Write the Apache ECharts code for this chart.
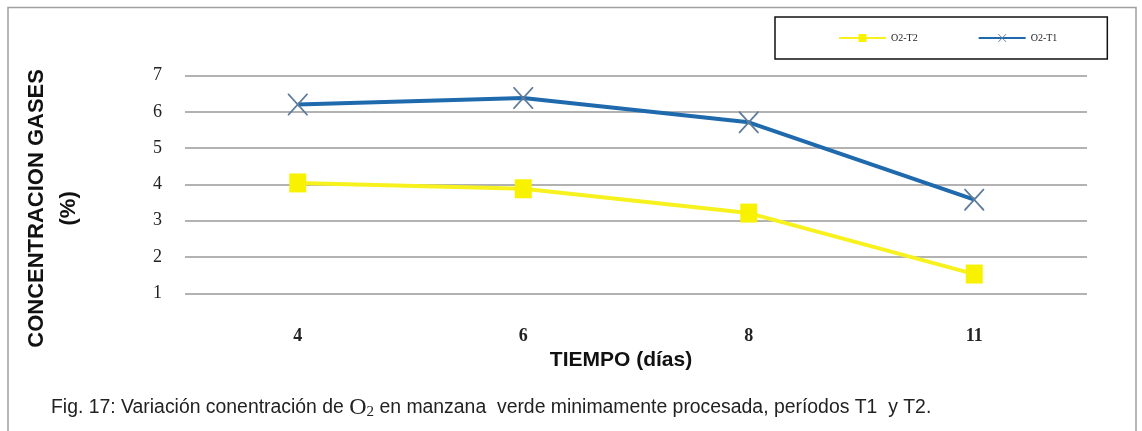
<!DOCTYPE html>
<html>
<head>
<meta charset="utf-8">
<script src="https://cdn.jsdelivr.net/npm/echarts@6/dist/echarts.min.js"></script>
<style>
  html, body { margin: 0; padding: 0; background: #fff; }
  #chart { width: 1142px; height: 431px; }
</style>
</head>
<body>
<div id="chart"></div>
<script>
const days = ['4', '6', '8', '11']
const o2T2 = [4.04, 3.88, 3.21, 1.53]
const o2T1 = [6.2, 6.38, 5.71, 3.58]
const yMin = 1
const yMax = 7

const crossPath = 'path://M0,0L1.2,0L10,8.8L18.8,0L20,0L20,1.2L11.2,10L20,18.8L20,20L18.8,20L10,11.2L1.2,20L0,20L0,18.8L8.8,10L0,1.2Z'

const chart = echarts.init(document.getElementById('chart'))

chart.setOption({
  backgroundColor: '#fff',
  animation: false,
  graphic: [{
    type: 'rect',
    shape: { x: 8, y: 7.5, width: 1128, height: 440 },
    style: { fill: 'none', stroke: '#a0a0a0', lineWidth: 1.5 },
    silent: true
  }],
  title: {
    left: 46,
    top: 391,
    text: '{t|Fig. 17: Variación conentración de }{o|O}{s|2}{t| en manzana  verde minimamente procesada, períodos T1  y T2.}',
    textStyle: {
      fontWeight: 'normal',
      rich: {
        t: { fontFamily: '"Liberation Sans", Arial', fontSize: 19.4, fontWeight: 'normal', color: '#222' },
        o: { fontFamily: '"Liberation Serif", "Times New Roman"', fontSize: 24, fontWeight: 'normal', color: '#222' },
        s: { fontFamily: '"Liberation Serif", "Times New Roman"', fontSize: 15, fontWeight: 'normal', color: '#222', verticalAlign: 'bottom', padding: [9, 0, 0, 0] }
      }
    }
  },
  legend: {
    left: 775,
    top: 17,
    orient: 'horizontal',
    padding: [16, 50, 16, 63],
    itemGap: 60,
    itemWidth: 47,
    itemHeight: 10,
    borderColor: '#111',
    borderWidth: 1.5,
    textStyle: { fontFamily: '"Liberation Serif", "Times New Roman"', fontSize: 10, color: '#222' },
    data: ['O2-T2', 'O2-T1']
  },
  grid: {
    left: 185,
    right: 55,
    top: 75.5,
    bottom: 137.7
  },
  xAxis: {
    type: 'category',
    data: days,
    boundaryGap: true,
    axisLine: { show: false },
    axisTick: { show: false },
    axisLabel: {
      margin: 34,
      color: '#222',
      fontFamily: '"Liberation Serif", "Times New Roman"',
      fontSize: 18,
      fontWeight: 'bold'
    },
    name: 'TIEMPO (días)',
    nameLocation: 'middle',
    nameGap: 48,
    nameTextStyle: {
      color: '#111',
      fontFamily: '"Liberation Sans", Arial',
      fontSize: 21,
      fontWeight: 'bold',
      padding: [0, 30, 0, 0]
    }
  },
  yAxis: {
    type: 'value',
    min: yMin,
    max: yMax,
    interval: 1,
    axisLine: { show: false },
    axisTick: { show: false },
    axisLabel: {
      margin: 23,
      color: '#222',
      fontFamily: '"Liberation Serif", "Times New Roman"',
      fontSize: 18
    },
    splitLine: { lineStyle: { color: '#999', width: 1.5 } },
    name: 'CONCENTRACION GASES\n(%)',
    nameLocation: 'middle',
    nameRotate: 90,
    nameGap: 100,
    nameTextStyle: {
      color: '#111',
      fontFamily: '"Liberation Sans", Arial',
      fontSize: 22,
      fontWeight: 'bold',
      lineHeight: 32,
      padding: [0, 48, 0, 0]
    }
  },
  series: [{
    name: 'O2-T2',
    type: 'line',
    data: o2T2,
    symbol: 'rect',
    symbolSize: [17, 19],
    lineStyle: { color: '#f7f21e', width: 4 },
    itemStyle: { color: '#f8f200' },
    z: 2
  }, {
    name: 'O2-T1',
    type: 'line',
    data: o2T1,
    symbol: crossPath,
    symbolSize: [20, 22],
    lineStyle: { color: '#1f69ad', width: 4 },
    itemStyle: { color: '#5d7c9c' },
    z: 3
  }]
})
</script>
</body>
</html>
